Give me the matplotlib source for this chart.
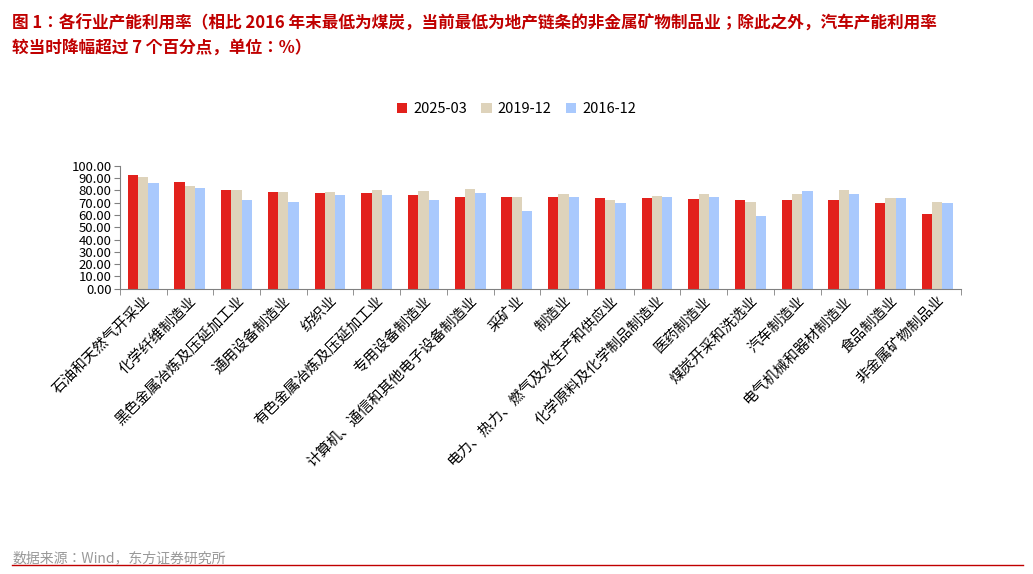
import matplotlib.pyplot as plt
import numpy as np

plt.rcParams['font.family'] = ['Noto Sans CJK SC', 'Noto Sans CJK JP', 'Noto Sans CJK TC', 'Noto Sans CJK KR', 'DejaVu Sans']

industries = ['石油和天然气开采业', '化学纤维制造业', '黑色金属冶炼及压延加工业', '通用设备制造业', '纺织业',
              '有色金属冶炼及压延加工业', '专用设备制造业', '计算机、通信和其他电子设备制造业', '采矿业', '制造业',
              '电力、热力、燃气及水生产和供应业', '化学原料及化学制品制造业', '医药制造业', '煤炭开采和洗选业',
              '汽车制造业', '电气机械和器材制造业', '食品制造业', '非金属矿物制品业']
s2025 = [92.5, 87, 80, 78.5, 78, 78, 76, 75, 75, 74.5, 74, 74, 73, 72.5, 72.5, 72, 69.5, 61]
s2019 = [91, 84, 80.5, 79, 79, 80.5, 79.5, 81, 75, 77.5, 72.5, 75.5, 77, 71, 77, 80, 73.5, 70.5]
s2016 = [86, 82, 72, 71, 76.5, 76, 72, 78, 63, 74.5, 70, 75, 75, 59.5, 79.5, 77, 74, 70]
series = [('2025-03', s2025, '#e2211c'), ('2019-12', s2019, '#ded3bb'), ('2016-12', s2016, '#a9c9fd')]

fig = plt.figure(figsize=(10.33, 5.74), dpi=100)
ax = fig.add_axes([0.116, 0.497, 0.814, 0.214])
x = np.arange(len(industries))
w = 0.22
for i, (name, vals, c) in enumerate(series):
    ax.bar(x + (i - 1) * w, vals, w, color=c, label=name)
ax.set_ylim(0, 100)
ax.set_yticks(np.arange(0, 101, 10))
ax.set_yticklabels([f'{v:.2f}' for v in range(0, 101, 10)], fontsize=9.5)
ax.set_xlim(-0.5, len(industries) - 0.5)
ax.set_xticks(x)
ax.set_xticklabels(industries, rotation=45, ha='right', rotation_mode='anchor', fontsize=10.5)
ax.tick_params(axis='x', length=0)
ax.set_xticks(np.arange(-0.5, len(industries)), minor=True)
ax.tick_params(axis='x', which='minor', length=4, color='#808080')
ax.tick_params(axis='y', length=4, color='#808080', pad=2)
for s in ['top', 'right']:
    ax.spines[s].set_visible(False)
for s in ['left', 'bottom']:
    ax.spines[s].set_color('#808080')
fig.legend(loc='center', bbox_to_anchor=(0.5, 0.81), ncol=3, frameon=False, fontsize=10.5,
           handlelength=0.7, handleheight=0.7, columnspacing=1.0, handletextpad=0.4)

fig.text(0.012, 0.975, '图 1：各行业产能利用率（相比 2016 年末最低为煤炭，当前最低为地产链条的非金属矿物制品业；除此之外，汽车产能利用率\n较当时降幅超过 7 个百分点，单位：%）',
         color='#c00000', fontsize=12, fontweight='bold', va='top', linespacing=1.5)
fig.text(0.012, 0.02, '数据来源：Wind，东方证券研究所', color='#999999', fontsize=10)
fig.add_artist(plt.Line2D([0.012, 0.99], [0.015, 0.015], color='#c00000', lw=1))
fig.savefig('out.png', dpi=100)
